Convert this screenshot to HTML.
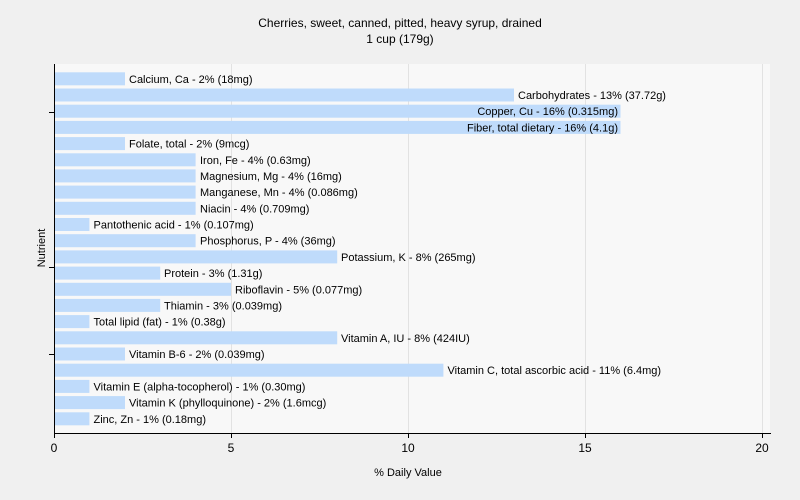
<!DOCTYPE html>
<html><head><style>body{margin:0;background:#f0f0f0}svg{display:block}text{font-family:"Liberation Sans",sans-serif;font-size:11px;fill:#000}</style></head>
<body>
<svg width="800" height="500" xmlns="http://www.w3.org/2000/svg">
<rect width="800" height="500" fill="#f0f0f0"/>
<rect x="54" y="64" width="716" height="369" fill="#f8f8f8"/>
<g stroke="#e2e2e2" stroke-width="1">
<line x1="231.5" y1="64" x2="231.5" y2="433"/>
<line x1="408.5" y1="64" x2="408.5" y2="433"/>
<line x1="585.5" y1="64" x2="585.5" y2="433"/>
<line x1="762.5" y1="64" x2="762.5" y2="433"/>
</g>
<text x="400" y="27" text-anchor="middle" style="font-size:12px">Cherries, sweet, canned, pitted, heavy syrup, drained</text>
<text x="400" y="43" text-anchor="middle" style="font-size:12px">1 cup (179g)</text>
<g fill="#bfdbfb">
<rect x="55" y="72.3" width="70" height="13"/>
<rect x="55" y="88.5" width="459" height="13"/>
<rect x="55" y="104.7" width="565.5" height="13"/>
<rect x="55" y="120.9" width="565.5" height="13"/>
<rect x="55" y="137.1" width="70" height="13"/>
<rect x="55" y="153.3" width="140.6" height="13"/>
<rect x="55" y="169.4" width="140.6" height="13"/>
<rect x="55" y="185.6" width="140.6" height="13"/>
<rect x="55" y="201.8" width="140.6" height="13"/>
<rect x="55" y="218.0" width="34.4" height="13"/>
<rect x="55" y="234.2" width="140.6" height="13"/>
<rect x="55" y="250.4" width="282.2" height="13"/>
<rect x="55" y="266.6" width="105.2" height="13"/>
<rect x="55" y="282.8" width="176" height="13"/>
<rect x="55" y="298.9" width="105.2" height="13"/>
<rect x="55" y="315.1" width="34.4" height="13"/>
<rect x="55" y="331.3" width="282.2" height="13"/>
<rect x="55" y="347.5" width="70" height="13"/>
<rect x="55" y="363.7" width="388.4" height="13"/>
<rect x="55" y="379.9" width="34.4" height="13"/>
<rect x="55" y="396.1" width="70" height="13"/>
<rect x="55" y="412.3" width="34.4" height="13"/>
</g>
<g>
<text x="129" y="82.8">Calcium, Ca - 2% (18mg)</text>
<text x="518" y="99">Carbohydrates - 13% (37.72g)</text>
<text x="618" y="115.2" text-anchor="end">Copper, Cu - 16% (0.315mg)</text>
<text x="618" y="131.4" text-anchor="end">Fiber, total dietary - 16% (4.1g)</text>
<text x="129" y="147.6">Folate, total - 2% (9mcg)</text>
<text x="200" y="163.8">Iron, Fe - 4% (0.63mg)</text>
<text x="200" y="179.9">Magnesium, Mg - 4% (16mg)</text>
<text x="200" y="196.1">Manganese, Mn - 4% (0.086mg)</text>
<text x="200" y="212.3">Niacin - 4% (0.709mg)</text>
<text x="93.5" y="228.5">Pantothenic acid - 1% (0.107mg)</text>
<text x="200" y="244.7">Phosphorus, P - 4% (36mg)</text>
<text x="341" y="260.9">Potassium, K - 8% (265mg)</text>
<text x="164" y="277.1">Protein - 3% (1.31g)</text>
<text x="235" y="293.3">Riboflavin - 5% (0.077mg)</text>
<text x="164" y="309.4">Thiamin - 3% (0.039mg)</text>
<text x="93.5" y="325.6">Total lipid (fat) - 1% (0.38g)</text>
<text x="341" y="341.8">Vitamin A, IU - 8% (424IU)</text>
<text x="129" y="358">Vitamin B-6 - 2% (0.039mg)</text>
<text x="447.5" y="374.2">Vitamin C, total ascorbic acid - 11% (6.4mg)</text>
<text x="93.5" y="390.4">Vitamin E (alpha-tocopherol) - 1% (0.30mg)</text>
<text x="129" y="406.6">Vitamin K (phylloquinone) - 2% (1.6mcg)</text>
<text x="93.5" y="422.8">Zinc, Zn - 1% (0.18mg)</text>
</g>
<g stroke="#000" stroke-width="1">
<line x1="54.5" y1="64" x2="54.5" y2="434"/>
<line x1="54" y1="433.5" x2="771" y2="433.5"/>
<line x1="49" y1="112.5" x2="54" y2="112.5"/>
<line x1="49" y1="267.5" x2="54" y2="267.5"/>
<line x1="49" y1="354.5" x2="54" y2="354.5"/>
<line x1="54.5" y1="433" x2="54.5" y2="438"/>
<line x1="231.5" y1="433" x2="231.5" y2="438"/>
<line x1="408.5" y1="433" x2="408.5" y2="438"/>
<line x1="585.5" y1="433" x2="585.5" y2="438"/>
<line x1="762.5" y1="433" x2="762.5" y2="438"/>
</g>
<text x="54" y="452" text-anchor="middle" style="font-size:12px">0</text>
<text x="231" y="452" text-anchor="middle" style="font-size:12px">5</text>
<text x="408" y="452" text-anchor="middle" style="font-size:12px">10</text>
<text x="585" y="452" text-anchor="middle" style="font-size:12px">15</text>
<text x="762" y="452" text-anchor="middle" style="font-size:12px">20</text>
<text x="408" y="476" text-anchor="middle">% Daily Value</text>
<text transform="translate(45,248) rotate(-90)" text-anchor="middle">Nutrient</text>
</svg>
</body></html>
